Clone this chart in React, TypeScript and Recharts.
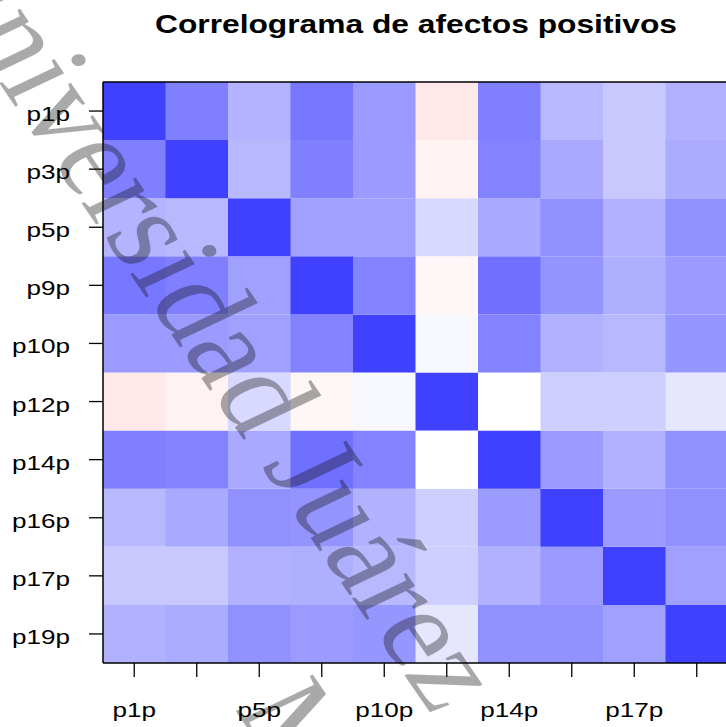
import React from 'react';
import { BarChart, Bar, XAxis, YAxis, Cell, ReferenceLine } from 'recharts';

const chartTitle = 'Correlograma de afectos positivos';
const variables = ['p1p', 'p3p', 'p5p', 'p9p', 'p10p', 'p12p', 'p14p', 'p16p', 'p17p', 'p19p'];
const labeledXTicks = ['p1p', 'p5p', 'p10p', 'p14p', 'p17p'];

// correlation rows (same order as variables)
const r_p1p = [1, 0.67, 0.4, 0.71, 0.53, -0.12, 0.67, 0.37, 0.29, 0.41];
const r_p3p = [0.67, 1, 0.37, 0.67, 0.53, -0.07, 0.65, 0.45, 0.29, 0.44];
const r_p5p = [0.4, 0.37, 1, 0.5, 0.5, 0.2, 0.45, 0.58, 0.41, 0.58];
const r_p9p = [0.71, 0.67, 0.5, 1, 0.65, -0.04, 0.75, 0.56, 0.42, 0.53];
const r_p10p = [0.53, 0.53, 0.5, 0.65, 1, 0.04, 0.65, 0.41, 0.37, 0.55];
const r_p12p = [-0.12, -0.07, 0.2, -0.04, 0.04, 1, 0, 0.25, 0.25, 0.13];
const r_p14p = [0.67, 0.65, 0.45, 0.75, 0.65, 0, 1, 0.53, 0.41, 0.58];
const r_p16p = [0.37, 0.45, 0.58, 0.56, 0.41, 0.25, 0.53, 1, 0.53, 0.58];
const r_p17p = [0.29, 0.29, 0.41, 0.42, 0.37, 0.25, 0.41, 0.53, 1, 0.5];
const r_p19p = [0.41, 0.44, 0.58, 0.53, 0.55, 0.13, 0.58, 0.58, 0.5, 1];

const correlations = [r_p1p, r_p3p, r_p5p, r_p9p, r_p10p, r_p12p, r_p14p, r_p16p, r_p17p, r_p19p];

const watermarkLine1 = 'Universidad Juárez Autónoma de Tabasco';
const watermarkLine2 = 'México';

function corrColor(r: number) {
  const t = Math.min(1, Math.abs(r));
  const c = Math.round(255 - 191 * t);
  if (r >= 0) return `rgb(${c},${c},255)`;
  return `rgb(255,${c},${c})`;
}

const n = variables.length;
const stackKeys = variables.map((_, k) => `s${k}`);
const data = variables.map((name) => {
  const o: any = { name };
  stackKeys.forEach((key) => {
    o[key] = 1;
  });
  return o;
});
const yTicks = variables.map((_, i) => i + 0.5);

const FONT = '"Liberation Sans", Arial, sans-serif';
const CHAR_W = 14.5;

const XTick = (props: any) => {
  const { x, y, payload } = props;
  const label = String(payload.value);
  if (!labeledXTicks.includes(label)) return <g />;
  return (
    <text
      x={x}
      y={y + 38}
      textAnchor="middle"
      fontFamily={FONT}
      fontSize={21}
      fill="#000"
      textLength={label.length * CHAR_W}
      lengthAdjust="spacingAndGlyphs"
    >
      {label}
    </text>
  );
};

const YTick = (props: any) => {
  const { x, y, payload } = props;
  const label = variables[n - 1 - Math.floor(payload.value)];
  return (
    <text
      x={x - 17}
      y={y + 10}
      textAnchor="end"
      fontFamily={FONT}
      fontSize={21}
      fill="#000"
      textLength={label.length * CHAR_W}
      lengthAdjust="spacingAndGlyphs"
    >
      {label}
    </text>
  );
};

export default function App() {
  return (
    <div style={{ position: 'absolute', left: 0, top: 0, width: 726, height: 727, overflow: 'hidden', background: '#fff' }}>
      <div style={{ position: 'absolute', left: 0, top: 0 }}>
        <BarChart
          width={740}
          height={727}
          data={data}
          margin={{ top: 82, right: 12, bottom: 0, left: 0 }}
          barCategoryGap={0}
          barGap={0}
        >
          <XAxis
            dataKey="name"
            height={64}
            interval={0}
            tickSize={14}
            tickLine={{ stroke: '#000', strokeWidth: 1.3 }}
            axisLine={{ stroke: '#000', strokeWidth: 1.5 }}
            tick={<XTick />}
          />
          <YAxis
            type="number"
            domain={[0, n]}
            ticks={yTicks}
            interval={0}
            width={103}
            tickSize={14}
            tickLine={{ stroke: '#000', strokeWidth: 1.3 }}
            axisLine={{ stroke: '#000', strokeWidth: 1.5 }}
            tick={<YTick />}
            allowDataOverflow
          />
          {stackKeys.map((key, k) => {
            const rowIdx = n - 1 - k;
            return (
              <Bar key={key} dataKey={key} stackId="cells" isAnimationActive={false}>
                {variables.map((v, j) => (
                  <Cell key={v} fill={corrColor(correlations[rowIdx][j])} />
                ))}
              </Bar>
            );
          })}
          <ReferenceLine y={n} stroke="#000" strokeWidth={1.5} />
        </BarChart>
      </div>
      <svg
        width={726}
        height={727}
        style={{ position: 'absolute', left: 0, top: 0, pointerEvents: 'none' }}
      >
        <text
          x={155}
          y={32.5}
          fontFamily={FONT}
          fontWeight="bold"
          fontSize={26}
          fill="#000"
          textLength={522}
          lengthAdjust="spacingAndGlyphs"
        >
          {chartTitle}
        </text>
        <g transform="scale(1.2,1)" fill="#111" fillOpacity={0.36}>
          <text
            transform="translate(-70,-38.6) rotate(60.3)"
            fontFamily='"Liberation Serif", "Times New Roman", serif'
            fontSize={113}
          >
            {watermarkLine1}
          </text>
          <text
            transform="translate(-70,-38.6) rotate(60.3) translate(780,140)"
            fontFamily='"Liberation Serif", "Times New Roman", serif'
            fontSize={113}
          >
            {watermarkLine2}
          </text>
        </g>
      </svg>
    </div>
  );
}
